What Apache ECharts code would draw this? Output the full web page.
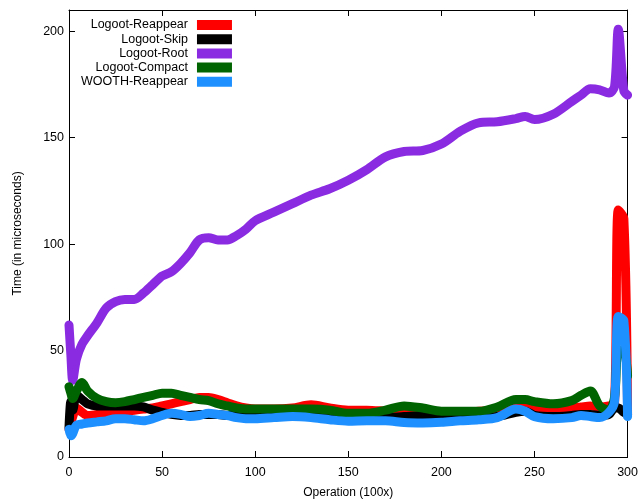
<!DOCTYPE html>
<html>
<head>
<meta charset="utf-8">
<script src="https://cdn.jsdelivr.net/npm/echarts@6/dist/echarts.min.js"></script>
<style>html,body{margin:0;padding:0;background:#fff}#c{width:641px;height:504px}</style>
</head>
<body>
<div id="c"></div>
<script>
const ops = [0,1,2,4,7,10,15,20,25,30,35,40,45,50,55,60,65,70,75,80,85,90,95,100,
  110,120,130,140,150,160,170,180,190,200,210,220,230,240,
  245,250,260,270,275,280,285,290,293,295,298,300];

const logootReappear = [13,16,19,23,21, 19.5,20,20.5,21,21.5, 22,22.5,23,24,25, 26,27,28,28,27, 25.5,24,23,22.5,
  22.5,23,24.5,23,22,22,21.5,21,21,21,21,21.5,22,25,
  25.5,23,22.5,23,23.5,24,23.5,24,25,116,112,20];

const logootSkip = [14,26,22,29,27, 25,24,24,24,24, 24,23.5,22,21,20, 19.5,19.5,20,20,20, 19.5,19.5,19.5,19.5,
  19.5,19.5,19,18.5,18.5,18.5,18.5,19,19.5,19,18.5,18.5,19,21,
  21.5,19.5,19,19.5,20,20,19.5,20,23,23,21,20];

const logootRoot = [62,48,36,46,53, 57,63,70,73,74, 74,77,81,85,87, 91,96,102,103,102, 102,104,107,111,
  115,119,123,126,130,135,141,143.5,144,147,153,157,157.5,159,
  160,158.5,161,167,170,173,172.5,171,174,201,172,170];

const logootCompact = [33,30,27.5,31,35, 31,27.5,26,25.5,26, 27,28,29,30,30, 29,28,27,26.5,25, 24,23,22.5,22.5,
  22.5,22.5,22.5,22,20.5,20.5,22,24,23,21.5,21.5,21.5,23.5,27,
  27,26,25,26.5,29,31,24,22,28,50,50,38];

const woothReappear = [13,10,11,15,15.5, 16,16.5,17,18,18, 17.5,17,18,19.5,20.5, 20,19,19.5,20.5,20, 19.5,18.5,18,18,
  18.5,19,18.5,17.5,16.8,17,17,16.2,16,16.3,17,17.5,18.5,22.5,
  21.5,19,18,18.5,19.5,19,18.5,21,26,66,64,19];

const seriesNames = ['Logoot-Reappear','Logoot-Skip','Logoot-Root','Logoot-Compact','WOOTH-Reappear'];
const seriesValues = [logootReappear, logootSkip, logootRoot, logootCompact, woothReappear];
const seriesColors = ['#ff0000','#000000','#8a2be2','#006400','#1e90ff'];

const FONT = 'Liberation Sans, Arial, sans-serif';
const chart = echarts.init(document.getElementById('c'), null, {renderer:'canvas'});

const axisCommon = {
  axisLine:{show:true, onZero:false, lineStyle:{color:'#000', width:1}},
  axisTick:{show:true, inside:true, length:6, lineStyle:{color:'#000', width:1}},
  splitLine:{show:false}
};

chart.setOption({
  animation:false,
  backgroundColor:'#fff',
  grid:{left:69, right:10, top:10, bottom:45, containLabel:false},
  legend:{
    orient:'vertical', left:76, top:13.5, align:'right', icon:'rect',
    itemWidth:35, itemHeight:10, itemGap:1.2,
    formatter: n => '{a|' + n + '}',
    textStyle:{rich:{a:{width:125, align:'right', fontSize:12.5,
      fontFamily:FONT, color:'#000', padding:[0,4,0,0]}}}
  },
  xAxis:[
    Object.assign({type:'value', min:0, max:300, interval:50, position:'bottom',
      name:'Operation (100x)', nameLocation:'middle', nameGap:30,
      nameTextStyle:{fontFamily:FONT, fontSize:12, color:'#000'},
      axisLabel:{fontFamily:FONT, fontSize:12.5, color:'#000', margin:9}}, axisCommon),
    Object.assign({type:'value', min:0, max:300, interval:50, position:'top',
      axisLabel:{show:false}}, axisCommon)
  ],
  yAxis:[
    Object.assign({type:'value', min:0, max:210, interval:50, position:'left',
      name:'Time (in microseconds)', nameLocation:'middle', nameGap:45,
      nameTextStyle:{fontFamily:FONT, fontSize:12, color:'#000'},
      axisLabel:{fontFamily:FONT, fontSize:12.5, color:'#000', margin:5, showMaxLabel:false}}, axisCommon),
    Object.assign({type:'value', min:0, max:210, interval:50, position:'right',
      axisLabel:{show:false}}, axisCommon)
  ],
  series: seriesNames.map((name, k) => ({
    name, type:'line', xAxisIndex:0, yAxisIndex:0,
    data: ops.map((x, i) => [x, seriesValues[k][i]]),
    showSymbol:false, symbol:'none', smooth:0.3,
    color: seriesColors[k],
    lineStyle:{width:9, color:seriesColors[k], cap:'round', join:'round'},
    itemStyle:{color:seriesColors[k]},
    z: 2 + k
  }))
});
</script>
</body>
</html>
